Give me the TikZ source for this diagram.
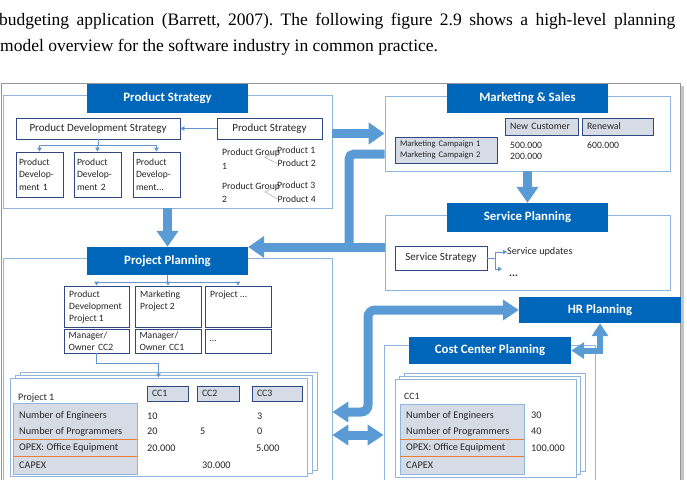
\documentclass[tikz,border=0pt]{standalone}
\usepackage{fontspec}
\setmainfont{Carlito}
\newfontfamily\parafont{Liberation Serif}
\usetikzlibrary{arrows.meta}
\definecolor{hdr}{RGB}{0,102,185}
\definecolor{arr}{RGB}{91,155,213}
\definecolor{oline}{RGB}{143,180,222}
\definecolor{navy}{RGB}{47,72,130}
\definecolor{gfill}{RGB}{214,220,229}
\definecolor{tln}{RGB}{100,150,205}
\definecolor{org}{RGB}{237,125,49}
\definecolor{txt}{RGB}{38,38,38}
\definecolor{framegray}{RGB}{150,150,150}
\tikzset{
 outerbox/.style={draw=oline, line width=0.8pt, fill=white, inner sep=0pt},
 hdrbox/.style={fill=hdr, text=white, font=\fontsize{12.8}{15}\selectfont\bfseries, inner sep=0pt},
 wbox/.style={draw=navy, line width=0.8pt, fill=white, text=txt, inner sep=0pt},
 gbox/.style={draw=navy, line width=0.8pt, fill=gfill, text=txt, inner ysep=0pt, inner xsep=5pt, align=left, font=\fontsize{9.8}{11}\selectfont},
 pagebox/.style={draw=oline, line width=0.8pt, fill=white, inner sep=0pt},
 tblbox/.style={draw=oline, line width=0.8pt, fill=gfill, inner sep=0pt},
 lbl/.style={text=txt, inner sep=0pt, anchor=west, font=\fontsize{9.7}{11}\selectfont},
 rowlbl/.style={lbl, font=\fontsize{10.2}{11}\selectfont},
 thinline/.style={draw=tln, line width=0.8pt},
 thinarr/.style={thinline, -{Triangle[length=4pt,width=4.5pt]}},
 bigarr/.style={draw=arr, line width=9pt, -{Triangle[length=16pt,width=21pt]}},
 bigline/.style={draw=arr, line width=9pt},
 bigboth/.style={draw=arr, line width=9pt, {Triangle[length=16pt,width=20pt]}-{Triangle[length=16pt,width=20pt]}},
 medboth/.style={draw=arr, line width=6pt, {Triangle[length=13pt,width=16pt]}-{Triangle[length=13pt,width=16pt]}},
 orangeline/.style={draw=org, line width=0.8pt},
 greyline/.style={draw=gray!70, line width=0.5pt},
}
\begin{document}
\frenchspacing
\begin{tikzpicture}[x=1pt,y=-1pt]
\useasboundingbox (0,0) rectangle (687,479);
\clip (0,0) rectangle (687,479);

% paragraph text
\node[anchor=base west, inner sep=0pt, font=\parafont\fontsize{17.5}{20}\selectfont, text=black] (l1) at (-1,25.5)
  {\makebox[676pt][s]{budgeting application (Barrett, 2007). The following figure 2.9 shows a high-level planning}};
\node[anchor=base west, inner sep=0pt, font=\parafont\fontsize{17.5}{20}\selectfont, text=black] (l2) at (0,51.5)
  {model overview for the software industry in common practice.};

% frame
\fill[gray!45] (680,86) rectangle (684,490);
\draw[framegray, line width=1pt] (1.5,490) -- (1.5,83.5) -- (680,83.5) -- (680,490);

% outer boxes
\node[outerbox, minimum width=329pt, minimum height=113pt] (pso) at (167.5,151.5) {};
\node[outerbox, minimum width=285pt, minimum height=75pt] (mso) at (527.5,133.5) {};
\node[outerbox, minimum width=285pt, minimum height=75pt] (spo) at (527.5,252.5) {};
\node[outerbox, minimum width=329pt, minimum height=232pt] (ppo) at (167.5,374) {};
\node[outerbox, minimum width=211pt, minimum height=145pt] (cco) at (489.5,417.5) {};

% headers
\node[hdrbox, minimum width=161pt, minimum height=29pt] (psh) at (167.5,98.5) {Product Strategy};
\node[hdrbox, minimum width=161pt, minimum height=29pt] (msh) at (527.5,98.5) {Marketing \& Sales};
\node[hdrbox, minimum width=161pt, minimum height=29pt] (sph) at (527.5,217.5) {Service Planning};
\node[hdrbox, minimum width=161pt, minimum height=28pt] (pph) at (167.5,261) {Project Planning};
\node[hdrbox, minimum width=162pt, minimum height=26pt] (hrh) at (600,310) {HR Planning};
\node[hdrbox, minimum width=162pt, minimum height=27pt] (cch) at (490,350.5) {Cost Center Planning};

% ---------- Product Strategy content
\node[wbox, minimum width=164pt, minimum height=21pt, font=\fontsize{11}{13}\selectfont] (pds) at (98,128.5) {Product Development Strategy};
\node[wbox, minimum width=105pt, minimum height=21pt, font=\fontsize{11}{13}\selectfont] (psb) at (269.5,128.5) {Product Strategy};
\node[wbox, minimum width=47pt, minimum height=45pt, align=left, text width=41pt, font=\fontsize{9.6}{12.5}\selectfont] (pd1) at (39.5,174.5) {Product\\Develop-\\ment 1};
\node[wbox, minimum width=47pt, minimum height=45pt, align=left, text width=41pt, font=\fontsize{9.6}{12.5}\selectfont] (pd2) at (97.5,174.5) {Product\\Develop-\\ment 2};
\node[wbox, minimum width=47pt, minimum height=45pt, align=left, text width=41pt, font=\fontsize{9.6}{12.5}\selectfont] (pd3) at (156.5,174.5) {Product\\Develop-\\ment...};
\draw[thinarr] (psb.west) -- (pds.east);
\draw[thinline] (pds.south) -- (pds.south |- 0,145);
\draw[thinline] (pd1.north |- 0,145) -- (pd3.north |- 0,145);
\draw[thinarr] (pd1.north |- 0,145) -- (pd1.north);
\draw[thinarr] (pd2.north |- 0,145) -- (pd2.north);
\draw[thinarr] (pd3.north |- 0,145) -- (pd3.north);

\node[lbl] (pg1) at (222,153) {Product Group};
\node[lbl] (pg1n) at (222,166) {1};
\node[lbl] (pr1) at (277,150) {Product 1};
\node[lbl] (pr2) at (277.5,163.5) {Product 2};
\coordinate (g1) at (265,157.5);
\draw[greyline] (pr1.west) -- (g1) -- (pr2.west);
\node[lbl] (pg2) at (222,186.5) {Product Group};
\node[lbl] (pg2n) at (222,199) {2};
\node[lbl] (pr3) at (277,185.5) {Product 3};
\node[lbl] (pr4) at (277.5,199) {Product 4};
\coordinate (g2) at (265,192);
\draw[greyline] (pr3.west) -- (g2) -- (pr4.west);

% ---------- Marketing & Sales content
\node[gbox, minimum height=17pt, text width=63pt] (nc) at (541.5,126.5) {New Customer};
\node[gbox, minimum height=17pt, text width=61pt] (ren) at (617.5,126.5) {Renewal};
\node[gbox, minimum height=26pt, text width=92pt, font=\fontsize{8.6}{11}\selectfont] (mc) at (446,150) {Marketing Campaign 1\\Marketing Campaign 2};
\node[lbl] (v500) at (510,145) {500.000};
\node[lbl] (v200) at (510,156) {200.000};
\node[lbl] (v600) at (587,145) {600.000};

% ---------- Service Planning content
\node[wbox, minimum width=92pt, minimum height=24pt, font=\fontsize{11}{13}\selectfont] (ss) at (441,258) {Service Strategy};
\node[lbl, font=\fontsize{10.2}{12}\selectfont] (su) at (507,252) {Service updates};
\node[lbl, font=\fontsize{11}{12}\selectfont\bfseries] (sdots) at (509,276) {...};
\coordinate (sj) at (495,258);
\coordinate (sjt) at (495,252);
\coordinate (sjb) at (495,269);
\coordinate (sbe) at (502,269);
\draw[thinline] (ss.east) -- (sj);
\draw[thinline] (sjt) -- (sjb);
\draw[thinarr] (sjt) -- (su.west);
\draw[thinarr] (sjb) -- (sbe);

% ---------- Project Planning content
\node[wbox, minimum width=65pt, minimum height=41pt] (pp1) at (96.5,306.5) {};
\node[wbox, minimum width=66pt, minimum height=41pt] (pp2) at (168,306.5) {};
\node[wbox, minimum width=66pt, minimum height=41pt] (pp3) at (238,306.5) {};
\node[lbl, anchor=north west, align=left, font=\fontsize{9.6}{12}\selectfont] (pp1t) at (69,291) {Product\\Development\\Project 1};
\node[lbl, anchor=north west, align=left, font=\fontsize{9.6}{12}\selectfont] (pp2t) at (140,291) {Marketing\\Project 2};
\node[lbl, anchor=north west, align=left, font=\fontsize{9.6}{12}\selectfont] (pp3t) at (210,291) {Project ...};
\node[wbox, minimum width=65pt, minimum height=24pt, align=left, text width=56pt, font=\fontsize{9.6}{11.5}\selectfont] (m1) at (96.5,341) {Manager/\\Owner CC2};
\node[wbox, minimum width=66pt, minimum height=24pt, align=left, text width=57pt, font=\fontsize{9.6}{11.5}\selectfont] (m2) at (168,341) {Manager/\\Owner CC1};
\node[wbox, minimum width=66pt, minimum height=24pt, align=left, text width=57pt, font=\fontsize{9.6}{11.5}\selectfont] (m3) at (238,341) {...};
\draw[thinline] (pph.south) -- (pph.south |- 0,282);
\draw[thinline] (pp1.north |- 0,282) -- (pp3.north |- 0,282);
\draw[thinarr] (pp1.north |- 0,282) -- (pp1.north);
\draw[thinarr] (pp2.north |- 0,282) -- (pp2.north);
\draw[thinarr] (pp3.north |- 0,282) -- (pp3.north);

% project pages
\node[pagebox, minimum width=297pt, minimum height=98pt] (pb3) at (168.5,421) {};
\node[pagebox, minimum width=297pt, minimum height=98pt] (pb2) at (163.5,424) {};
\node[pagebox, minimum width=297pt, minimum height=98pt] (pf) at (158.5,427) {};
\draw[thinarr] (m1.south) -- (m1.south |- 0,363) -| (pf.north);
\node[lbl, font=\fontsize{10}{11}\selectfont] (prj1) at (18,398) {Project 1};
\node[gbox, minimum height=15pt, text width=31pt] (cc1) at (167.5,393.5) {CC1};
\node[gbox, minimum height=15pt, text width=32pt] (cc2) at (218,393.5) {CC2};
\node[gbox, minimum height=15pt, text width=40pt] (cc3) at (277,393.5) {CC3};
\node[tblbox, minimum width=124pt, minimum height=71pt] (ptb) at (75,438.5) {};
\draw[orangeline] (ptb.west |- 0,439) -- (ptb.east |- 0,439);
\draw[orangeline] (ptb.west |- 0,456) -- (ptb.east |- 0,456);
\node[rowlbl] (pr_a) at (19,416) {Number of Engineers};
\node[rowlbl] (pr_b) at (19,431.5) {Number of Programmers};
\node[rowlbl] (pr_c) at (19,448) {OPEX: Office Equipment};
\node[rowlbl] (pr_d) at (19,465) {CAPEX};
\node[rowlbl] (pv1) at (147,416) {10};
\node[rowlbl] (pv2) at (257,416) {3};
\node[rowlbl] (pv3) at (147,431.5) {20};
\node[rowlbl] (pv4) at (200,431.5) {5};
\node[rowlbl] (pv5) at (257,431.5) {0};
\node[rowlbl] (pv6) at (147,448) {20.000};
\node[rowlbl] (pv7) at (256,448) {5.000};
\node[rowlbl] (pv8) at (202,465) {30.000};

% cost center pages
\node[pagebox, minimum width=181pt, minimum height=98pt] (cb3) at (494.5,422) {};
\node[pagebox, minimum width=181pt, minimum height=98pt] (cb2) at (490,425) {};
\node[pagebox, minimum width=181pt, minimum height=98pt] (cf) at (485.5,428) {};
\node[lbl] (ccn) at (404,396) {CC1};
\node[tblbox, minimum width=124pt, minimum height=70pt] (ctb) at (462,439) {};
\draw[orangeline] (ctb.west |- 0,439.5) -- (ctb.east |- 0,439.5);
\draw[orangeline] (ctb.west |- 0,456) -- (ctb.east |- 0,456);
\node[rowlbl] (cr_a) at (406,415.5) {Number of Engineers};
\node[rowlbl] (cr_b) at (406,431.5) {Number of Programmers};
\node[rowlbl] (cr_c) at (406,448) {OPEX: Office Equipment};
\node[rowlbl] (cr_d) at (406,465) {CAPEX};
\node[rowlbl] (cv1) at (531,415) {30};
\node[rowlbl] (cv2) at (531,431) {40};
\node[rowlbl] (cv3) at (531,448) {100.000};

% ---------- big arrows
\draw[bigarr] (pso.east |- mso.west) -- (mso.west);
\draw[bigarr] (pso.south) -- (pph.north);
\draw[bigarr] (mso.south) -- (sph.north);
\coordinate (mj1) at (349,154);
\coordinate (mj2) at (349,247);
\draw[bigline, rounded corners=5pt] (mso.west |- mj1) -- (mj1) -- (mj2);
\draw[bigarr] (spo.west |- mj2) -- (pph.east |- mj2);
\coordinate (hj1) at (368,412);
\coordinate (hj2) at (368,310);
\draw[bigboth, rounded corners=7pt] (ppo.east |- hj1) -- (hj1) -- (hj2) -- (hrh.west);
\coordinate (dj) at (0,435);
\draw[bigboth] (ppo.east |- dj) -- (cco.west |- dj);
\draw[medboth] (cch.east) -- (hrh.south |- cch.east) -- (hrh.south);
\end{tikzpicture}
\end{document}
